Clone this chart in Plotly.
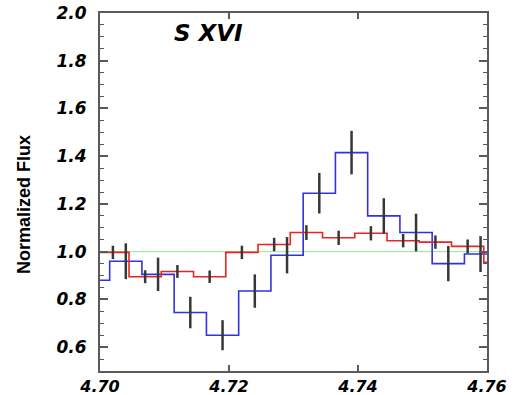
import plotly.graph_objects as go

# Spectrum around the S XVI line: two binned data sets (0.005 Å bins)
BIN_WIDTH = 0.005

# coarse set (blue histogram, large errors)
blue_wave = [4.699, 4.704, 4.709, 4.714, 4.719, 4.724, 4.729,
             4.734, 4.739, 4.744, 4.749, 4.754, 4.759]
blue_flux = [0.88, 0.96, 0.905, 0.745, 0.65, 0.835, 0.985,
             1.245, 1.415, 1.15, 1.08, 0.95, 0.99]
blue_err = [0.07, 0.075, 0.07, 0.066, 0.063, 0.07, 0.076,
            0.085, 0.091, 0.074, 0.079, 0.074, 0.075]

# model / fine set (red histogram, small errors)
red_wave = [4.702, 4.707, 4.712, 4.717, 4.722, 4.727, 4.732,
            4.737, 4.742, 4.747, 4.752, 4.757, 4.762]
red_flux = [0.997, 0.895, 0.917, 0.895, 0.997, 1.03, 1.08,
            1.058, 1.077, 1.046, 1.04, 1.022, 0.955]
red_err = [0.028, 0.027, 0.027, 0.026, 0.028, 0.028, 0.031,
           0.03, 0.03, 0.028, 0.028, 0.029, 0.029]

continuum = 1.0
x_ticks = [4.70, 4.72, 4.74, 4.76]
y_ticks = [0.6, 0.8, 1.0, 1.2, 1.4, 1.6, 1.8, 2.0]


def step_xy(centers, values):
    """Bin edges and values for a left-edge 'hv' step line."""
    edges = [c - BIN_WIDTH / 2 for c in centers]
    edges.append(centers[-1] + BIN_WIDTH / 2)
    return edges, list(values) + [values[-1]]


fig = go.Figure()

# continuum level
fig.add_trace(go.Scatter(
    x=[4.69, 4.77], y=[continuum, continuum], mode="lines",
    line=dict(color="rgb(140,235,140)", width=1), hoverinfo="skip"))

bx, by = step_xy(blue_wave, blue_flux)
fig.add_trace(go.Scatter(
    x=bx, y=by, mode="lines", line_shape="hv",
    line=dict(color="rgb(50,50,225)", width=1.6)))

rx, ry = step_xy(red_wave, red_flux)
fig.add_trace(go.Scatter(
    x=rx, y=ry, mode="lines", line_shape="hv",
    line=dict(color="rgb(235,35,35)", width=1.6)))

# error bars at bin centres (no caps, no markers)
for w, f, e in [(blue_wave, blue_flux, blue_err), (red_wave, red_flux, red_err)]:
    fig.add_trace(go.Scatter(
        x=w, y=f, mode="markers",
        marker=dict(size=1, color="rgba(0,0,0,0)"),
        error_y=dict(type="data", array=e, visible=True,
                     color="rgb(55,55,55)", thickness=2.5, width=0)))

# title of the line
fig.add_annotation(
    x=4.7168, y=1.915, xref="x", yref="y", text="S XVI", showarrow=False,
    font=dict(family="DejaVu Sans", size=23, color="black",
              weight="bold", style="italic"))

# y-axis label
fig.add_annotation(
    x=-0.196, y=0.464, xref="paper", yref="paper", text="Normalized Flux",
    textangle=-90, showarrow=False, xanchor="center", yanchor="middle",
    font=dict(family="Liberation Sans", size=18, color="black", weight="bold"))

tick_font = dict(family="DejaVu Sans", size=17, color="black",
                 weight="bold", style="italic")
frame = dict(showline=True, linecolor="rgb(90,90,90)", linewidth=2,
             mirror="allticks", ticks="inside", tickcolor="rgb(90,90,90)",
             tickwidth=1.5, showgrid=False, zeroline=False,
             automargin=False)

fig.update_xaxes(
    range=[4.70, 4.76], tickvals=x_ticks,
    ticktext=[f"{v:.2f}" for v in x_ticks], ticklen=6,
    ticklabelstandoff=0, tickfont=dict(tick_font, size=16), **frame)
fig.update_yaxes(
    range=[0.5, 2.0], tickvals=y_ticks,
    ticktext=[f"{v:.1f}" for v in y_ticks], ticklen=8,
    ticklabelstandoff=8, tickfont=tick_font,
    minor=dict(dtick=0.05, tick0=0.5, ticks="inside", ticklen=4,
               tickcolor="rgb(90,90,90)", tickwidth=1.2, showgrid=False),
    **frame)

fig.update_layout(
    width=515, height=395,
    margin=dict(l=100, r=28, t=13, b=24),
    paper_bgcolor="white", plot_bgcolor="white",
    showlegend=False)

fig.write_html("out.html")
